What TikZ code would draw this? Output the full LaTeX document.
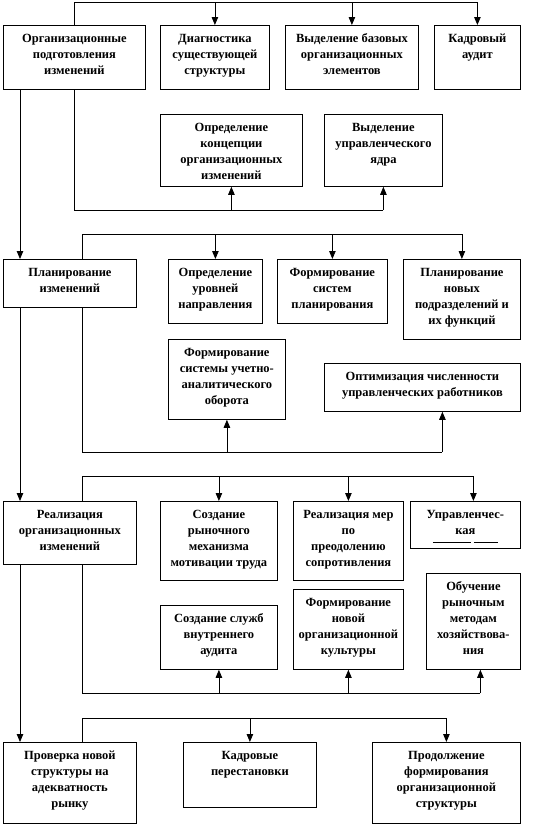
\documentclass[tikz,border=0pt]{standalone}
\usepackage{fontspec}
\setmainfont{Liberation Serif}
\usepackage{tikz}
\usetikzlibrary{arrows.meta,positioning}
\newcommand{\boxtext}[3]{\parbox[c][#2][t]{#1}{\centering\rule{0pt}{17.5pt}#3}}

\begin{document}
\begin{tikzpicture}[
    x=1pt, y=-1pt,
    blk/.style={draw, line width=0.8pt, inner sep=0pt, anchor=north west,
      font=\bfseries\fontsize{12.5}{16}\selectfont},
    link/.style={line width=0.8pt},
    arr/.style={link, -{Triangle[length=8pt,width=6.5pt]}}
  ]
    \useasboundingbox (0,0) rectangle (534,825);
    % stage 1
    \node[blk] (org) at (3,25) {\boxtext{142pt}{64pt}{Организационные\\подготовления\\изменений}};
    \node[blk] (diag) at (160,25) {\boxtext{109pt}{64pt}{Диагностика\\существующей\\структуры}};
    \node[blk] (base) at (285,25) {\boxtext{133pt}{64pt}{Выделение базовых\\организационных\\элементов}};
    \node[blk] (audit) at (434,25) {\boxtext{86pt}{64pt}{Кадровый\\аудит}};
    \node[blk] (conc) at (160,114) {\boxtext{142pt}{72pt}{Определение\\концепции\\организационных\\изменений}};
    \node[blk] (core) at (324,114) {\boxtext{118pt}{72pt}{Выделение\\управленческого\\ядра}};
    % stage 2
    \node[blk] (plan) at (3,259) {\boxtext{133pt}{48pt}{Планирование\\изменений}};
    \node[blk] (levels) at (168,259) {\boxtext{94pt}{64pt}{Определение\\уровней\\направления}};
    \node[blk] (psys) at (277,259) {\boxtext{110pt}{64pt}{Формирование\\систем\\планирования}};
    \node[blk] (units) at (403,259) {\boxtext{117pt}{80pt}{Планирование\\новых\\подразделений и\\их функций}};
    \node[blk] (acct) at (168,339) {\boxtext{117pt}{80pt}{Формирование\\системы учетно-\\аналитического\\оборота}};
    \node[blk] (staff) at (324,363) {\boxtext{196pt}{48pt}{Оптимизация численности\\управленческих работников}};
    % stage 3
    \node[blk] (real) at (3,501) {\boxtext{133pt}{63pt}{Реализация\\организационных\\изменений}};
    \node[blk] (motiv) at (160,501) {\boxtext{117pt}{79pt}{Создание\\рыночного\\механизма\\мотивации труда}};
    \node[blk] (resist) at (293,501) {\boxtext{110pt}{79pt}{Реализация мер\\по\\преодолению\\сопротивления}};
    \node[blk] (manag) at (410,501) {\boxtext{110pt}{47pt}{Управленчес-\\кая\\[-8pt]\rule{38pt}{0.8pt}\hspace{3pt}\rule{24pt}{0.8pt}}};
    \node[blk] (audsvc) at (160,605) {\boxtext{117pt}{64pt}{Создание служб\\внутреннего\\аудита}};
    \node[blk] (cult) at (293,589) {\boxtext{110pt}{80pt}{Формирование\\новой\\организационной\\культуры}};
    \node[blk] (train) at (426,573) {\boxtext{94pt}{96pt}{Обучение\\рыночным\\методам\\хозяйствова-\\ния}};
    % stage 4
    \node[blk] (check) at (3,742) {\boxtext{133pt}{81pt}{Проверка новой\\структуры на\\адекватность\\рынку}};
    \node[blk] (perm) at (183,742) {\boxtext{133pt}{65pt}{Кадровые\\перестановки}};
    \node[blk] (cont) at (372,742) {\boxtext{148pt}{81pt}{Продолжение\\формирования\\организационной\\структуры}};

    \coordinate (bus1) at (0,2);
    \coordinate (bus2) at (0,210);
    \coordinate (bus3) at (0,234);
    \coordinate (bus4) at (0,452);
    \coordinate (bus5) at (0,476);
    \coordinate (bus6) at (0,693);
    \coordinate (bus7) at (0,718);
    \coordinate (staffin) at ([xshift=20pt]staff.south);
    \coordinate (managin) at ([xshift=8pt]manag.north);
    \coordinate (trainin) at ([xshift=7pt]train.south);

    % left spine
    \draw[arr] ([xshift=17pt]org.south west) -- ([xshift=17pt]plan.north west);
    \draw[arr] ([xshift=17pt]plan.south west) -- ([xshift=17pt]real.north west);
    \draw[arr] ([xshift=17pt]real.south west) -- ([xshift=17pt]check.north west);

    % stage 1 links
    \draw[link] (org.north) |- (bus1 -| audit.north);
    \foreach \n in {diag,base,audit}
      \draw[arr] (bus1 -| \n.north) -- (\n.north);
    \draw[link] (org.south) |- (bus2 -| core.south);
    \foreach \n in {conc,core}
      \draw[arr] (bus2 -| \n.south) -- (\n.south);

    % stage 2 links
    \draw[link] ([xshift=79pt]plan.north west) |- (bus3 -| units.north);
    \foreach \n in {levels,psys,units}
      \draw[arr] (bus3 -| \n.north) -- (\n.north);
    \draw[link] ([xshift=79pt]plan.south west) |- (bus4 -| staffin);
    \foreach \n in {acct.south,staffin}
      \draw[arr] (bus4 -| \n) -- (\n);

    % stage 3 links
    \draw[link] ([xshift=79pt]real.north west) |- (bus5 -| managin);
    \foreach \n in {motiv.north,resist.north,managin}
      \draw[arr] (bus5 -| \n) -- (\n);
    \draw[link] ([xshift=79pt]real.south west) |- (bus6 -| trainin);
    \foreach \n in {audsvc.south,cult.south,trainin}
      \draw[arr] (bus6 -| \n) -- (\n);

    % stage 4 links
    \draw[link] ([xshift=79pt]check.north west) |- (bus7 -| cont.north);
    \foreach \n in {perm,cont}
      \draw[arr] (bus7 -| \n.north) -- (\n.north);
  \end{tikzpicture}
\end{document}
